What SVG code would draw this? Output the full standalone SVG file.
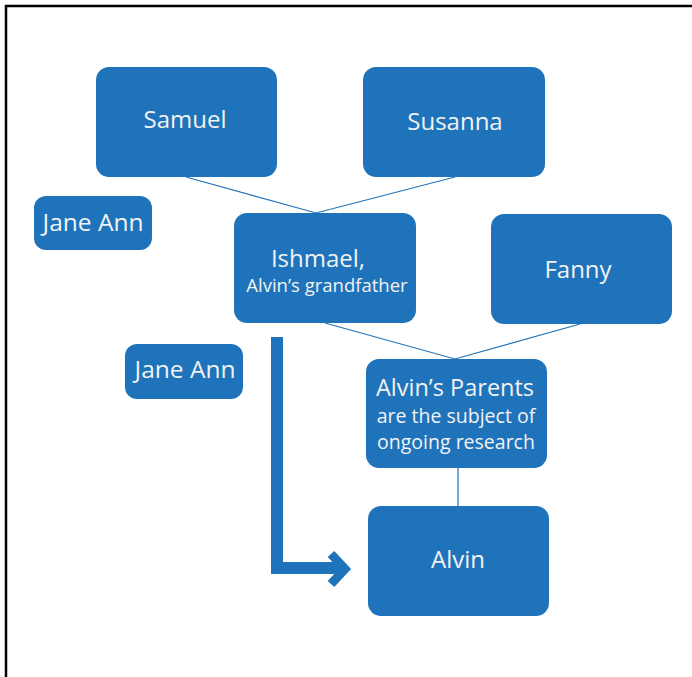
<svg xmlns="http://www.w3.org/2000/svg" width="692" height="677" viewBox="0 0 692 677">
<style>
.n{fill:#1f73ba}
.t{fill:#f2f2f2;font-family:"Open Sans","Liberation Sans",sans-serif;text-anchor:middle}
.c{stroke:#1f73ba;stroke-width:1.2;fill:none}
</style>
<rect width="692" height="677" fill="#fff"/>
<path d="M6 677V6H692" fill="none" stroke="#000" stroke-width="2.5"/>
<g id="connectors">
<path class="c" d="M186 177L316 213L455 177"/>
<path class="c" d="M325 323L455 359L580 324"/>
<path class="c" d="M458 468V506"/>
<path d="M277 337V568H341" fill="none" stroke="#1f73ba" stroke-width="12"/>
<path d="M331 554L345 569L331 584" fill="none" stroke="#1f73ba" stroke-width="9"/>
</g>
<g id="samuel"><rect class="n" x="96" y="67" width="181" height="110" rx="13"/><text class="t" x="185" y="128" font-size="24">Samuel</text></g>
<g id="susanna"><rect class="n" x="363" y="67" width="182" height="110" rx="13"/><text class="t" x="455" y="130" font-size="24">Susanna</text></g>
<g id="janeann1"><rect class="n" x="34" y="196" width="118" height="54" rx="12"/><text class="t" x="93" y="231" font-size="24.5">Jane Ann</text></g>
<g id="ishmael"><rect class="n" x="234" y="213" width="182" height="110" rx="13"/><text class="t" x="318" y="267" font-size="24">Ishmael,</text><text class="t" x="327" y="292" font-size="18.5">Alvin’s grandfather</text></g>
<g id="fanny"><rect class="n" x="491" y="214" width="181" height="110" rx="13"/><text class="t" x="578" y="278" font-size="24">Fanny</text></g>
<g id="janeann2"><rect class="n" x="125" y="344" width="118" height="55" rx="12"/><text class="t" x="185" y="378" font-size="24.5">Jane Ann</text></g>
<g id="parents"><rect class="n" x="366" y="359" width="181" height="109" rx="13"/><text class="t" x="455" y="396" font-size="23.5">Alvin’s Parents</text><text class="t" x="456" y="423" font-size="19.5">are the subject of</text><text class="t" x="456" y="449" font-size="19.5">ongoing research</text></g>
<g id="alvin"><rect class="n" x="368" y="506" width="181" height="110" rx="13"/><text class="t" x="458" y="568" font-size="24">Alvin</text></g>
</svg>
